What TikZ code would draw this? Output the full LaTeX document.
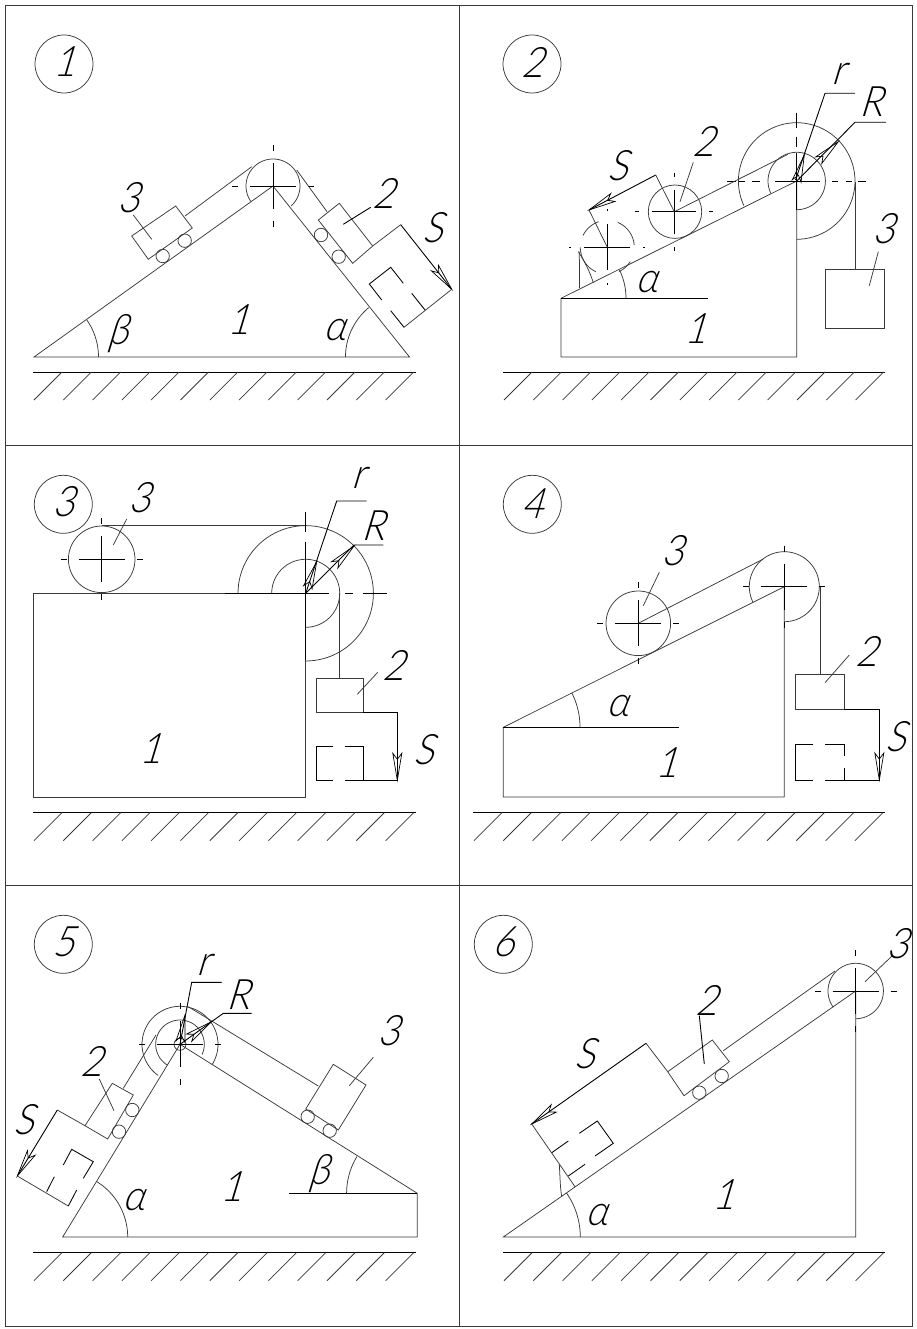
\documentclass[tikz,border=0pt]{standalone}
\usepackage{fontspec}
\usetikzlibrary{calc}
\newfontfamily\labfont[FakeSlant=0.3,FakeStretch=0.9]{Lato Light}
\definecolor{ink}{HTML}{3A3A3A}
\tikzset{
  x=1pt,y=-1pt,
  ln/.style={line width=0.75pt,draw=ink},
  cl/.style={line width=0.9pt,draw=black},
  lab/.style={font=\labfont\fontsize{42}{42}\selectfont,text=black,inner sep=0pt},
  dsh/.style={line width=0.85pt,draw=black},
}
% centre, radius, from, to (angles counted with y upward)
\newcommand\parc[5]{\draw[ln] plot[domain=#4:#5,samples=70] ({#1+#3*cos(\x)},{#2-#3*sin(\x)});}
\newcommand\pcross[5]{%
  \draw[cl] (#1-#3,#2)--(#1+#3,#2) (#1,#2-#3)--(#1,#2+#3);
  \draw[cl] (#1-#5,#2)--(#1-#4,#2) (#1+#4,#2)--(#1+#5,#2)
            (#1,#2-#5)--(#1,#2-#4) (#1,#2+#4)--(#1,#2+#5);}
\newcommand\ground[4]{%
  \draw[cl] (#1,#3)--(#2,#3);
  \foreach \k in {0,...,#4}{\draw[ln] (#1+1+\k*29.3,#3+28)--++(28,-28);}}
% hollow arrow head: tail coordinate, tip coordinate
\newcommand\htip[2]{%
  \coordinate (hb) at ($(#2)!27pt!(#1)$);
  \coordinate (hn) at ($(#2)!21pt!(#1)$);
  \draw[line width=0.7pt,draw=black] (#2)--($(hb)!4.5pt!90:(#2)$)--(hn)--($(hb)!4.5pt!-90:(#2)$)--cycle;}
\newcommand\roller[2]{\draw[ln] (#1,#2) circle[radius=6.7];}
\begin{document}
\begin{tikzpicture}
\useasboundingbox (0,0) rectangle (917,1329);
% frame
\draw[ln] (5,5) rectangle (912.5,1326);
\draw[ln] (459.5,5)--(459.5,1326) (5,445)--(912.5,445) (5,885)--(912.5,885);

%%% PANEL 1
\draw[ln] (64,64) circle[radius=29];
\node[lab] (n1) at (64,62) {1};
\draw[ln] (34,357)--(273,186)--(409.5,357)--cycle;
\ground{33}{416}{372}{12}
\parc{273}{186}{27}{-48}{215}
\pcross{273}{186}{23}{35}{41}
\draw[ln] (251.7,166.7)--(185,216) (296.7,170)--(327,211.7);
\draw[ln] (131.7,236)--(175.7,206)--(192.3,228)--(148.3,259.3)--cycle;
\roller{162.7}{256}\roller{184.7}{240.7}
\draw[ln] (133.3,215)--(151.7,239.3);
\node[lab] (a13) at (128,198) {3};
\draw[ln] (318.3,220)--(339.3,203.3)--(372.7,246)--(352.7,263.3)--cycle;
\roller{321}{235}\roller{338.7}{256.7}
\draw[cl] (343.3,224.3)--(370.7,207.3);
\node[lab] (a12) at (383,193) {2};
\coordinate (s1a) at (400.7,224.7);\coordinate (s1b) at (451.7,289.3);
\draw[ln] (372.7,246)--(s1a);
\draw[cl] (s1a)--(s1b);
\htip{s1a}{s1b}
\draw[ln] (s1b)--(404,327.3);
\draw[dsh] (404,327.3)--(390.7,310.7) (381.7,300)--(369.3,284)--(390.7,267.3)--(403.3,283.3) (411.7,293.3)--(425,310);
\parc{409.5}{357}{64}{129.5}{180}
\parc{34}{357}{64.5}{0}{35}
\node[lab] (a1a) at (334,330) {α};
\node[lab] (a1b) at (118,334) {β};
\node[lab] (a11) at (238,320) {1};
\node[lab] (a1s) at (433,228) {S};

%%% PANEL 2
\draw[ln] (532,64) circle[radius=29];
\node[lab] (n2) at (532,62) {2};
\draw[ln] (561,298.3)--(796.7,181)--(796.7,357)--(561,357)--cycle;
\draw[cl] (561,298.3)--(708.3,298.3);
\ground{503}{885}{372}{12}
\parc{796.7}{181}{58.3}{-90}{205}
\parc{796.7}{181}{28.7}{-90}{206}
\draw[cl] (727,181)--(736,181) (739,181)--(745,181) (752,181)--(760,181) (775,181)--(820,181)
  (832,181)--(838,181) (846,181)--(852,181) (858,181)--(866,181)
  (796.7,112.7)--(796.7,128.3) (796.7,136.7)--(796.7,146.7) (796.7,153)--(796.7,210);
\draw[ln] (674.3,211.7)--(788,154.3);
\draw[ln] (675,211.7) circle[radius=26.7];
\pcross{674.3}{211.7}{22}{35}{39}
\parc{607.3}{247.3}{27}{109}{154}
\parc{607.3}{247.3}{27}{5}{67}
\parc{607.3}{247.3}{27}{180}{245}
\parc{607.3}{247.3}{27}{-64}{-32}
\pcross{607.3}{247.3}{23}{36}{38}
\coordinate (s2a) at (655.7,175);\coordinate (s2b) at (589,210);
\draw[ln] (674.3,211.7)--(s2a);
\draw[cl] (s2a)--(s2b);
\htip{s2a}{s2b}
\draw[ln] (s2b)--(607.3,247.3);
\draw[ln] (579.3,251.7)--(579.6,288);
\draw[ln] (578.3,251.7) .. controls (585,262) and (590,272) .. (593.3,282.7);
\parc{561}{298.3}{65}{0}{26}
\draw[ln] (693.3,162.3)--(680,201.7);
\node[lab] (a22) at (703.3,141.7) {2};
\coordinate (c2) at (796.7,181);
\coordinate (r2t) at (804.3,155);\coordinate (R2t) at (838.3,141.7);
\draw[cl] (855,93.3)--(825,93.3)--(795.5,180);
\htip{c2}{r2t}
\draw[cl] (886,122.3)--(855,122.3)--(c2);
\htip{c2}{R2t}
\draw[ln] (825.7,269.3) rectangle (884.7,328.3);
\draw[ln] (855.3,181.7)--(855.3,269.3);
\draw[ln] (878.3,251.7)--(869.3,285.7);
\node[lab] (a23) at (883.3,228.3) {3};
\node[lab] (a21) at (695,328.3) {1};
\node[lab] (a2a) at (646.7,281.7) {α};
\node[lab] (a2s) at (618,165.7) {S};
\node[lab] (a2R) at (870.7,101.7) {R};
\node[lab] (a2r) at (838.3,74) {r};

%%% PANEL 3
\draw[ln] (63.3,504.3) circle[radius=29];
\node[lab] (n3) at (63.3,502) {3};
\draw[ln] (33.3,593.3) rectangle (305.7,797.3);
\ground{33}{416}{812.7}{12}
\draw[ln] (101.7,559.3) circle[radius=33.3];
\pcross{101.7}{559.3}{23}{35}{41}
\draw[ln] (101.7,525.3)--(305.7,525.3);
\parc{305.7}{593.3}{67.7}{-90}{180}
\parc{305.7}{593.3}{34}{-90}{180}
\draw[cl] (225,593.3)--(305.7,593.3) (305.7,593.3)--(329,593.3) (345,593.3)--(353.3,593.3) (362.7,593.3)--(387,593.3)
 (305.7,511.7)--(305.7,532.3) (305.7,541.7)--(305.7,660);
\draw[ln] (339.3,593.3)--(339.3,678.3);
\draw[ln] (316.3,678.3) rectangle (363.3,712.3);
\coordinate (s3a) at (397.3,712.3);\coordinate (s3b) at (397.3,780.3);
\draw[cl] (363.3,712.3)--(s3a)--(s3b)--(363.3,780.3);
\htip{s3a}{s3b}
\draw[dsh] (363.3,780.3)--(363.3,746)--(345,746) (333.3,746)--(316.3,746)--(316.3,780.3)--(333.3,780.3) (345,780.3)--(363.3,780.3);
\draw[ln] (377.7,672.3)--(357.3,694.3);
\node[lab] (a32) at (393.3,665) {2};
\draw[ln] (126.7,519)--(113.3,545);
\node[lab] (a33) at (139,497.7) {3};
\coordinate (c3) at (305.7,593.3);
\coordinate (r3t) at (316.7,561.7);\coordinate (R3t) at (354,546);
\draw[cl] (366.7,501)--(336.7,501)--(c3);
\htip{c3}{r3t}
\draw[cl] (383.3,545)--(354,545)--(c3);
\htip{c3}{R3t}
\node[lab] (a3r) at (358.3,478.3) {r};
\node[lab] (a3R) at (373.3,526) {R};
\node[lab] (a3s) at (423.3,750) {S};
\node[lab] (a31) at (150.7,748.3) {1};

%%% PANEL 4
\draw[ln] (532.3,504.3) circle[radius=29];
\node[lab] (n4) at (532.3,504) {4};
\draw[ln] (503.3,727.3)--(784.3,586.7)--(784.3,797)--(503.3,797)--cycle;
\draw[cl] (503.3,727.3)--(679,727.3);
\ground{473}{885}{812.7}{13}
\parc{784.3}{586.7}{35}{-90}{206}
\pcross{784.3}{586.7}{23}{35}{41}
\draw[ln] (638.3,623.3)--(763.3,559);
\draw[ln] (638.3,623.3) circle[radius=32.3];
\pcross{638.3}{623.3}{23}{35}{41}
\draw[ln] (820,586.7)--(820,674.3);
\draw[ln] (795.3,674.3) rectangle (844.3,709.3);
\coordinate (s4a) at (879.3,709.3);\coordinate (s4b) at (879.3,780);
\draw[cl] (844.3,709.3)--(s4a)--(s4b)--(844.3,780);
\htip{s4a}{s4b}
\draw[dsh] (844.3,780)--(844.3,767.7) (844.3,756)--(844.3,744.3)--(825,744.3) (813.3,744.3)--(795.3,744.3)--(795.3,780)--(813.3,780) (825,780)--(844.3,780);
\draw[ln] (849.3,655)--(825,682.7);
\node[lab] (a42) at (866.7,651) {2};
\draw[ln] (659.3,572.3)--(643.3,605.7);
\node[lab] (a43) at (672.7,551) {3};
\node[lab] (a4a) at (617.3,705.7) {α};
\node[lab] (a41) at (666.7,762.3) {1};
\node[lab] (a4s) at (896,736.7) {S};
\parc{503.3}{727.3}{76.7}{0}{26.5}

%%% PANEL 5
\draw[ln] (63.3,944.3) circle[radius=29];
\node[lab] (n5) at (63.3,942) {5};
\draw[ln] (62.7,1237)--(180,1044.3)--(417.3,1193.3)--(417.3,1237)--cycle;
\draw[cl] (289.3,1193.3)--(417.3,1193.3);
\ground{33}{416}{1252.7}{12}
\parc{180}{1044.3}{38}{-32}{235}
\parc{180}{1044.3}{24.3}{-25}{239}
\draw[ln] (180,1044.3) circle[radius=6];
\pcross{180}{1044.3}{23}{35}{41}
\draw[ln] (188.3,1006.7)--(318.3,1086) (156,1035)--(123.3,1088.3);
\draw[ln] (333.3,1064.3)--(366,1085)--(338.3,1130)--(305.7,1109)--cycle;
\roller{307.7}{1116.7}\roller{329.7}{1130.7}
\draw[ln] (373.3,1057.3)--(349.3,1085.7);
\node[lab] (a53) at (388.3,1031) {3};
\draw[ln] (112.3,1083.3)--(133.3,1095)--(107.7,1139)--(85,1125.7)--cycle;
\roller{132.3}{1110}\roller{119}{1131.7}
\draw[ln] (99.3,1079)--(114,1110.7);
\node[lab] (a52) at (91.7,1061.7) {2};
\coordinate (s5a) at (57.3,1110);\coordinate (s5b) at (17.3,1176);
\draw[ln] (85,1125.7)--(s5a);
\draw[cl] (s5a)--(s5b);
\htip{s5a}{s5b}
\draw[ln] (s5b)--(68.3,1206);
\draw[dsh] (63.3,1165)--(71.7,1149.3)--(93.3,1161.7)--(83.3,1178.3) (54.3,1176.7)--(46.7,1191.7) (68.3,1206)--(76.7,1190);
\coordinate (c5) at (180,1044.3);
\coordinate (r5t) at (185,1015);\coordinate (R5t) at (211,1022);
\draw[cl] (221.7,982.3)--(191.7,982.3)--(c5);
\htip{c5}{r5t}
\draw[cl] (251.7,1013.3)--(223.3,1013.3)--(c5);
\htip{c5}{R5t}
\node[lab] (a5r) at (203.3,965) {r};
\node[lab] (a5R) at (238.3,995) {R};
\node[lab] (a5s) at (23.3,1120) {S};
\node[lab] (a5a) at (133.3,1200) {α};
\node[lab] (a5b) at (318.3,1173.3) {β};
\node[lab] (a51) at (231.7,1186.7) {1};
\parc{62.7}{1237}{65}{0}{58.7}
\parc{417.3}{1193.3}{70.7}{148.6}{180}

%%% PANEL 6
\draw[ln] (503.3,944.3) circle[radius=29];
\node[lab] (n6) at (503.3,942) {6};
\draw[ln] (503.3,1237)--(855.7,991)--(855.7,1237)--cycle;
\ground{503}{885}{1252.7}{12}
\parc{855.7}{991}{27.7}{-90}{216}
\pcross{855.7}{991}{23}{35}{41}
\draw[ln] (835,971)--(723.3,1050.7);
\draw[ln] (712.3,1040)--(729.3,1061.7)--(684,1095.7)--(667.7,1071.7)--cycle;
\roller{699.3}{1092.7}\roller{721.7}{1076}
\draw[cl] (699.3,1015.7)--(704.3,1064);
\node[lab] (a62) at (706.7,1000) {2};
\draw[ln] (892.3,955.7)--(865,981.7);
\node[lab] (a63) at (897,943.3) {3};
\coordinate (s6a) at (646,1043.3);\coordinate (s6b) at (531.7,1124);
\draw[ln] (667.7,1071.7)--(s6a);
\draw[cl] (s6a)--(s6b);
\htip{s6a}{s6b}
\draw[ln] (s6b)--(575,1186.7);
\draw[dsh] (551.7,1152.7)--(568.3,1141) (579.3,1133.3)--(597.3,1121)--(613.3,1143.3)--(595,1156) (585,1164.3)--(568.3,1176);
\draw[ln] (559.3,1164.3) .. controls (560,1175) and (560,1186) .. (561.7,1196.7);
\parc{503.3}{1237}{77}{0}{34.9}
\node[lab] (a6a) at (596,1215) {α};
\node[lab] (a61) at (723.3,1195) {1};
\node[lab] (a6s) at (585,1053.3) {S};
\end{tikzpicture}
\end{document}
